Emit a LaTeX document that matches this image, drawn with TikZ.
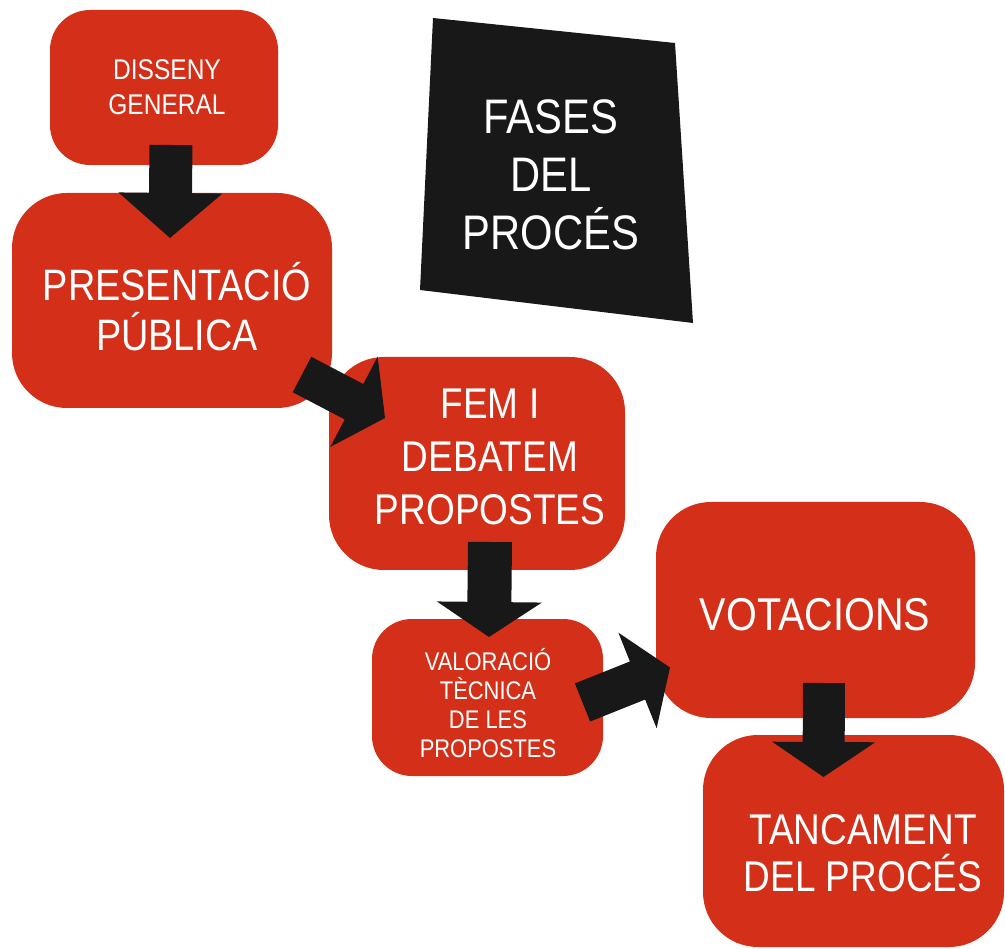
\documentclass[tikz,border=0pt]{standalone}
\usepackage{fontspec}
\setmainfont{Liberation Sans}[FakeStretch=0.86]
\usetikzlibrary{calc}
\definecolor{boxred}{RGB}{212,48,25}
\definecolor{inkblack}{RGB}{24,24,24}
\tikzset{
  phase/.style={fill=boxred, inner sep=0pt, rounded corners=#1},
  lbl/.style={text=white, align=center, inner sep=0pt},
  arrowfill/.style={fill=inkblack},
}
% #1 name, #2 start, #3 tip, #4 shaft half width, #5 head half width, #6 head length
\newcommand\blockarrow[6]{%
  \coordinate (#1b) at ($(#3)!#6!(#2)$);
  \fill[arrowfill] ($(#2)!#4!90:(#3)$) -- ($(#1b)!#4!90:(#3)$) -- ($(#1b)!#5!90:(#3)$)
    -- (#3) -- ($(#1b)!#5!-90:(#3)$) -- ($(#1b)!#4!-90:(#3)$) -- ($(#2)!#4!-90:(#3)$) -- cycle;
}
\begin{document}
\begin{tikzpicture}[x=1pt,y=-1pt]
\useasboundingbox (0,0) rectangle (1005,949);
\fill[white] (0,0) rectangle (1005,949);

% title block
\coordinate (q1) at (433,18);
\coordinate (q2) at (675,43);
\coordinate (q3) at (693,323);
\coordinate (q4) at (420,290);
\fill[inkblack] (q1) -- (q2) -- (q3) -- (q4) -- cycle;
\node[lbl, font=\fontsize{48.5}{58}\selectfont] (title) at (551,175) {FASES\\DEL\\PROCÉS};

% phase boxes
\node[phase=40pt, minimum width=228pt, minimum height=155pt] (b1) at (164,87.5) {};
\node[phase=55pt, minimum width=320pt, minimum height=215pt] (b2) at (172,300.5) {};
\node[phase=55pt, minimum width=296pt, minimum height=213pt] (b3) at (477,463.5) {};
\node[phase=40pt, minimum width=231pt, minimum height=157pt] (b4) at (487.5,697.5) {};
\node[phase=55pt, minimum width=319pt, minimum height=216pt] (b5) at (815.5,610) {};
\node[phase=55pt, minimum width=301pt, minimum height=212pt] (b6) at (853.5,841) {};

% arrows
\coordinate (a1s) at (171,145);   \coordinate (a1t) at (170,238);
\coordinate (a2s) at (302,374.5); \coordinate (a2t) at (385,418);
\coordinate (a3s) at (490,542);   \coordinate (a3t) at (489,637);
\coordinate (a4s) at (582.5,702.5); \coordinate (a4t) at (670,667.5);
\coordinate (a5s) at (824,683);   \coordinate (a5t) at (823.5,777);
\blockarrow{a1}{a1s}{a1t}{21.5pt}{52pt}{45pt}
\blockarrow{a2}{a2s}{a2t}{20pt}{51pt}{35pt}
\blockarrow{a3}{a3s}{a3t}{22pt}{52.5pt}{35pt}
\blockarrow{a4}{a4s}{a4t}{20.5pt}{51.5pt}{35pt}
\blockarrow{a5}{a5s}{a5t}{21pt}{51.5pt}{35pt}

% labels
\node[lbl, font=\fontsize{28.5}{35}\selectfont] (t1) at (167,87) {DISSENY\\GENERAL};
\node[lbl, font=\fontsize{44}{50}\selectfont] (t2) at (177,307) {PRESENTACIÓ\\PÚBLICA};
\node[lbl, font=\fontsize{43}{53}\selectfont] (t3) at (490,457) {FEM I\\DEBATEM\\PROPOSTES};
\node[lbl, font=\fontsize{25.5}{29}\selectfont] (t4) at (488,703) {VALORACIÓ\\TÈCNICA\\DE LES\\PROPOSTES};
\node[lbl, font=\fontsize{46}{50}\selectfont] (t5) at (815,615) {VOTACIONS};
\node[lbl, font=\fontsize{43}{47}\selectfont] (t6) at (863,853) {TANCAMENT\\DEL PROCÉS};
\end{tikzpicture}
\end{document}
